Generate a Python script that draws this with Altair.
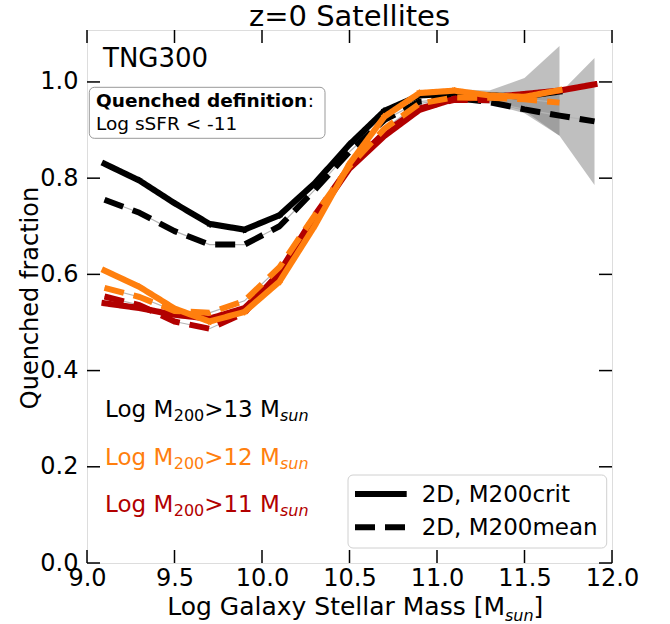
import altair as alt
import pandas as pd

# ---------------- data ----------------
mass = [9.1, 9.3, 9.5, 9.7, 9.9, 10.1, 10.3, 10.5, 10.7, 10.9, 11.1, 11.3, 11.5, 11.7, 11.9]

q13_crit = [0.830, 0.795, 0.748, 0.705, 0.693, 0.723, 0.789, 0.870, 0.940, 0.972, 0.976, 0.972, 0.970, 0.980, None]
q13_mean = [0.755, 0.728, 0.690, 0.662, 0.662, 0.700, 0.775, 0.855, 0.921, 0.959, 0.967, 0.958, 0.943, 0.930, 0.918]
q12_crit = [0.608, 0.574, 0.529, 0.502, 0.522, 0.585, 0.700, 0.830, 0.928, 0.977, 0.982, 0.972, 0.969, 0.983, None]
q12_mean = [0.572, 0.553, 0.524, 0.520, 0.545, 0.615, 0.722, 0.825, 0.903, 0.955, 0.968, 0.967, 0.964, 0.957, None]
q11_crit = [0.540, 0.530, 0.516, 0.508, 0.530, 0.600, 0.715, 0.820, 0.888, 0.942, 0.965, 0.968, 0.975, 0.982, 0.995]
q11_mean = [0.554, 0.536, 0.502, 0.487, 0.520, 0.605, 0.722, 0.825, 0.895, 0.945, 0.963, 0.962, None, None, None]

band_crit_x = [11.1, 11.3, 11.5, 11.7]
band_crit_lo = [0.962, 0.958, 0.940, 0.888]
band_crit_hi = [0.985, 0.982, 1.008, 1.075]
band_mean_x = [11.1, 11.3, 11.5, 11.7, 11.9]
band_mean_lo = [0.958, 0.955, 0.935, 0.888, 0.786]
band_mean_hi = [0.972, 0.965, 0.965, 0.976, 1.050]

x_ticks = [9.0, 9.5, 10.0, 10.5, 11.0, 11.5, 12.0]
y_ticks = [0.0, 0.2, 0.4, 0.6, 0.8, 1.0]

cuts = ["13", "12", "11"]
cut_colors = ["black", "#ff7f0e", "#b20000"]
defs = ["crit", "mean"]
legend_labels = ["2D, M200crit", "2D, M200mean"]

# ---------------- tables ----------------
series = {
    ("13", "crit"): q13_crit, ("13", "mean"): q13_mean,
    ("12", "crit"): q12_crit, ("12", "mean"): q12_mean,
    ("11", "crit"): q11_crit, ("11", "mean"): q11_mean,
}
rows = []
for (c, d), vals in series.items():
    for m, v in zip(mass, vals):
        if v is not None:
            rows.append({"mass": m, "frac": v, "cut": c, "defn": d})
df = pd.DataFrame(rows)

bands = pd.concat([
    pd.DataFrame({"mass": band_crit_x, "lo": band_crit_lo, "hi": band_crit_hi, "b": "crit"}),
    pd.DataFrame({"mass": band_mean_x, "lo": band_mean_lo, "hi": band_mean_hi, "b": "mean"}),
])
xt = pd.DataFrame({"t": x_ticks})
yt = pd.DataFrame({"t": y_ticks})
one = pd.DataFrame({"a": [0]})

W, H = 525, 533
FONT = "DejaVu Sans"

xscale = alt.Scale(domain=[9.0, 12.0], nice=False, zero=False)
yscale = alt.Scale(domain=[0.0, 1.108], nice=False, zero=False)
xaxis = alt.Axis(values=x_ticks, format=".1f", ticks=False, tickSize=0, domain=False, grid=False,
                 labelFontSize=24, labelPadding=3, labelFlush=False, labelOverlap=False,
                 labelColor="black", labelFont=FONT)
yaxis = alt.Axis(values=y_ticks, format=".1f", ticks=False, tickSize=0, domain=False, grid=False,
                 labelFontSize=24, labelPadding=9, labelFlush=False, labelOverlap=False,
                 labelColor="black", labelFont=FONT)


def X(f):
    return alt.X(f, type="quantitative", scale=xscale, axis=xaxis, title=None)


def Y(f):
    return alt.Y(f, type="quantitative", scale=yscale, axis=yaxis, title=None)


color_enc = alt.Color("cut:N", scale=alt.Scale(domain=cuts, range=cut_colors), legend=None)
dash_enc = alt.StrokeDash("defn:N", scale=alt.Scale(domain=defs, range=[[1, 0], [20, 10]]), legend=None)

layers = []

# shaded bands
layers.append(
    alt.Chart(bands).mark_area(color="#808080", opacity=0.5).encode(
        x=X("mass"), y=Y("lo"), y2="hi", detail="b:N"
    )
)

# thin gray line under dashed curves
layers.append(
    alt.Chart(df).transform_filter(alt.datum.defn == "mean").mark_line(
        color="#b5b5b5", strokeWidth=1.2
    ).encode(x=X("mass"), y=Y("frac"), detail="cut:N")
)

for c in ["13", "11", "12"]:
    for d in defs:
        layers.append(
            alt.Chart(df).transform_filter(
                (alt.datum.cut == c) & (alt.datum.defn == d)
            ).mark_line(
                strokeWidth=6, strokeJoin="round", strokeCap=("square" if d == "crit" else "butt")
            ).encode(x=X("mass"), y=Y("frac"), color=color_enc, strokeDash=dash_enc)
        )

# inward ticks on all four sides
tick_color = "black"
layers += [
    alt.Chart(xt).mark_rule(color=tick_color, strokeWidth=1.5).encode(x=X("t"), y=alt.value(H), y2=alt.value(H - 13)),
    alt.Chart(xt).mark_rule(color=tick_color, strokeWidth=1.5).encode(x=X("t"), y=alt.value(0), y2=alt.value(13)),
    alt.Chart(yt).mark_rule(color=tick_color, strokeWidth=1.5).encode(y=Y("t"), x=alt.value(0), x2=alt.value(13)),
    alt.Chart(yt).mark_rule(color=tick_color, strokeWidth=1.5).encode(y=Y("t"), x=alt.value(W), x2=alt.value(W - 13)),
]


def txt(text, x, y, size, color="black", align="left", baseline="alphabetic", weight="normal",
        style="normal", angle=0):
    return alt.Chart(one).mark_text(
        text=text, font=FONT, fontSize=size, color=color, align=align, baseline=baseline,
        fontWeight=weight, fontStyle=style, angle=angle
    ).encode(x=alt.value(x), y=alt.value(y))


# title
layers.append(txt("z=0 Satellites", W / 2, -4, 29, align="center"))
# axis titles
layers.append(txt("Quenched fraction", -49, 268, 24, align="center", angle=270))
layers.append(txt("Log Galaxy Stellar Mass [M", 418, 585, 25, align="right"))
layers.append(txt("sun", 418, 591, 16, style="italic"))
layers.append(txt("]", 446.6, 585, 25))

# TNG300 label
layers.append(txt("TNG300", 16, 36.7, 26))

# quenched definition box
layers.append(
    alt.Chart(one).mark_rect(fill="white", stroke="#999999", strokeWidth=1, cornerRadius=5).encode(
        x=alt.value(2.3), x2=alt.value(238), y=alt.value(57.3), y2=alt.value(108.3)
    )
)
layers.append(txt("Quenched definition", 9, 76.7, 18.5, weight="bold"))
layers.append(txt(":", 220.8, 76.7, 18.5))
layers.append(txt("Log sSFR < -11", 9, 100, 18.5))

# mass-cut labels
base_y = [386.7, 435.0, 481.7]
for (c, col), by in zip(zip(["13", "12", "11"], cut_colors), base_y):
    x0 = 18
    layers.append(txt("Log M", x0, by, 23, color=col))
    layers.append(txt("200", x0 + 68.7, by + 4, 16, color=col))
    layers.append(txt(">" + c + " M", x0 + 68.7 + 30.5, by, 23, color=col))
    layers.append(txt("sun", x0 + 68.7 + 30.5 + 75.7, by + 4, 16, color=col, style="italic"))

# legend box
layers.append(
    alt.Chart(one).mark_rect(fill="white", stroke="#cccccc", strokeWidth=1, cornerRadius=5, opacity=0.9).encode(
        x=alt.value(261), x2=alt.value(519.7), y=alt.value(445), y2=alt.value(518)
    )
)
layers.append(
    alt.Chart(one).mark_rule(color="black", strokeWidth=6).encode(
        x=alt.value(268), x2=alt.value(319.7), y=alt.value(464)
    )
)
layers.append(
    alt.Chart(one).mark_rule(color="black", strokeWidth=6, strokeDash=[20, 10]).encode(
        x=alt.value(268), x2=alt.value(319.7), y=alt.value(497.3)
    )
)
layers.append(txt(legend_labels[0], 334.7, 471.7, 23))
layers.append(txt(legend_labels[1], 334.7, 505, 23))

chart = alt.layer(*layers).properties(
    width=W, height=H,
    autosize=alt.AutoSizeParams(type="none"),
    padding={"left": 87, "top": 30, "right": 58, "bottom": 61},
).configure_view(stroke="black", strokeWidth=1.3).configure(font=FONT)

chart.save("out.html", embed_options={"renderer": "svg", "actions": False})
